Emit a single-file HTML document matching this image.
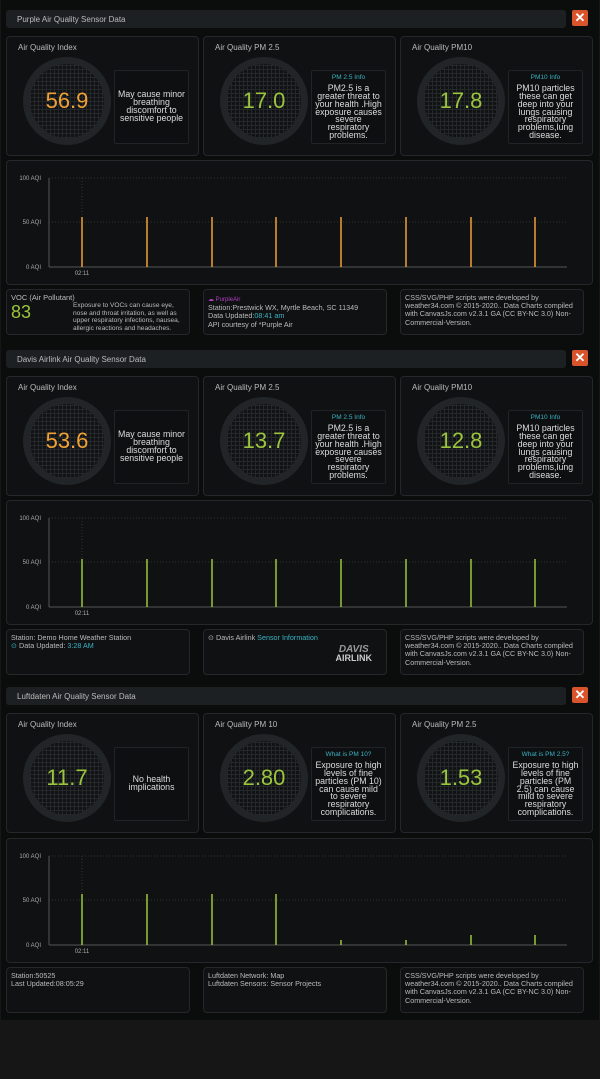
<!DOCTYPE html>
<html><head><meta charset="utf-8"><style>
*{margin:0;padding:0;box-sizing:border-box}
body{width:600px;height:1079px;background:#161616;font-family:"Liberation Sans",sans-serif;color:#bbb;position:relative;overflow:hidden}
#main{position:absolute;left:1px;top:0;width:598px;height:1020px;background:#0b0c0c}
.hdr{position:absolute;left:6px;width:560px;height:18px;background:#1d2023;border-radius:3px;font-size:8px;color:#bbb;padding:5px 0 0 11px}
.x{position:absolute;left:572px;width:16px;height:16px;background:#d9542b;border-radius:2px;color:#fff;font-size:13px;font-weight:bold;text-align:center;line-height:16px}
.card{position:absolute;width:193px;height:120px;background:#0f1112;border:1px solid #24282b;border-radius:4px}
.card .t{position:absolute;left:11px;top:6px;font-size:8px;color:#bbb}
.g{position:absolute;left:16px;top:20px;width:88px;height:88px;border-radius:50%;border:7px solid #222527;background-color:#101213;background-image:repeating-linear-gradient(0deg,#25282a 0 1px,transparent 1px 4px),repeating-linear-gradient(90deg,#25282a 0 1px,transparent 1px 4px)}
.g span{position:absolute;left:0;right:0;top:24px;text-align:center;font-size:22px}
.tb{position:absolute;left:107px;top:33px;width:75px;height:74px;border:1px solid #202427;border-radius:2px;background:#0d0f10;text-align:center;font-size:8.8px;line-height:7.8px;color:#ddd;display:flex;flex-direction:column;justify-content:center;padding:2px 3px}
.tb b{font-weight:normal;color:#3bb3c3;font-size:6.5px;margin-bottom:3px}
.or{color:#f0a135}.gr{color:#9bc53d}
.ch{position:absolute;left:6px;width:587px;height:125px;background:#0f1112;border:1px solid #24282b;border-radius:4px}
.bc{position:absolute;width:184px;height:46px;background:#0f1112;border:1px solid #24282b;border-radius:4px;font-size:7.2px;line-height:8.2px;color:#bbb;padding:4px 4px}
.cy{color:#3bb3c3}
</style></head><body><div id="main"></div>

<!-- Section 1 -->
<div class="hdr" style="top:10px">Purple Air Quality Sensor Data</div><div class="x" style="top:10px">✕</div>
<div class="card" style="left:6px;top:36px"><div class="t">Air Quality Index</div><div class="g"><span class="or">56.9</span></div><div class="tb">May cause minor breathing discomfort to sensitive people</div></div>
<div class="card" style="left:203px;top:36px"><div class="t">Air Quality PM 2.5</div><div class="g"><span class="gr">17.0</span></div><div class="tb"><b>PM 2.5 Info</b>PM2.5 is a greater threat to your health .High exposure causes severe respiratory problems.</div></div>
<div class="card" style="left:400px;top:36px"><div class="t">Air Quality PM10</div><div class="g"><span class="gr">17.8</span></div><div class="tb"><b>PM10 Info</b>PM10 particles these can get deep into your lungs causing respiratory problems,lung disease.</div></div>
<div class="ch" style="top:160px"><svg width="587" height="125" font-family="Liberation Sans" font-size="6" fill="#aaa">
<g stroke="#333" stroke-dasharray="1,2"><line x1="42" y1="17" x2="560" y2="17"/><line x1="42" y1="61" x2="560" y2="61"/><line x1="75" y1="17" x2="75" y2="106"/></g>
<line x1="42" y1="17" x2="42" y2="106" stroke="#555"/><line x1="42" y1="106" x2="560" y2="106" stroke="#555"/>
<text x="34" y="19" text-anchor="end">100 AQI</text><text x="34" y="63" text-anchor="end">50 AQI</text><text x="34" y="108" text-anchor="end">0 AQI</text><text x="75" y="114" text-anchor="middle">02:11</text>
<g stroke="#f0a135" stroke-width="1.5"><line x1="75" y1="56" x2="75" y2="106"/><line x1="140" y1="56" x2="140" y2="106"/><line x1="205" y1="56" x2="205" y2="106"/><line x1="269" y1="56" x2="269" y2="106"/><line x1="334" y1="56" x2="334" y2="106"/><line x1="399" y1="56" x2="399" y2="106"/><line x1="464" y1="56" x2="464" y2="106"/><line x1="528" y1="56" x2="528" y2="106"/></g></svg></div>
<div class="bc" style="left:6px;top:289px"><div style="font-size:7.5px">VOC (Air Pollutant)</div><div class="gr" style="position:absolute;left:4px;top:12px;font-size:18px;line-height:20px">83</div><div style="position:absolute;left:66px;top:12px;width:116px;font-size:6.6px;line-height:7.5px">Exposure to VOCs can cause eye, nose and throat irritation, as well as upper respiratory infections, nausea, allergic reactions and headaches.</div></div>
<div class="bc" style="left:203px;top:289px;padding-top:6px"><div style="color:#b03fc0;font-size:6px">☁ PurpleAir</div>Station:Prestwick WX, Myrtle Beach, SC 11349<br>Data Updated:<span class="cy">08:41 am</span><br>API courtesy of *Purple Air</div>
<div class="bc" style="left:400px;top:289px">CSS/SVG/PHP scripts were developed by weather34.com © 2015-2020.. Data Charts compiled with CanvasJs.com v2.3.1 GA (CC BY-NC 3.0) Non-Commercial-Version.</div>

<!-- Section 2 -->
<div class="hdr" style="top:350px">Davis Airlink Air Quality Sensor Data</div><div class="x" style="top:350px">✕</div>
<div class="card" style="left:6px;top:376px"><div class="t">Air Quality Index</div><div class="g"><span class="or">53.6</span></div><div class="tb">May cause minor breathing discomfort to sensitive people</div></div>
<div class="card" style="left:203px;top:376px"><div class="t">Air Quality PM 2.5</div><div class="g"><span class="gr">13.7</span></div><div class="tb"><b>PM 2.5 Info</b>PM2.5 is a greater threat to your health .High exposure causes severe respiratory problems.</div></div>
<div class="card" style="left:400px;top:376px"><div class="t">Air Quality PM10</div><div class="g"><span class="gr">12.8</span></div><div class="tb"><b>PM10 Info</b>PM10 particles these can get deep into your lungs causing respiratory problems,lung disease.</div></div>
<div class="ch" style="top:500px"><svg width="587" height="125" font-family="Liberation Sans" font-size="6" fill="#aaa">
<g stroke="#333" stroke-dasharray="1,2"><line x1="42" y1="17" x2="560" y2="17"/><line x1="42" y1="61" x2="560" y2="61"/><line x1="75" y1="17" x2="75" y2="106"/></g>
<line x1="42" y1="17" x2="42" y2="106" stroke="#555"/><line x1="42" y1="106" x2="560" y2="106" stroke="#555"/>
<text x="34" y="19" text-anchor="end">100 AQI</text><text x="34" y="63" text-anchor="end">50 AQI</text><text x="34" y="108" text-anchor="end">0 AQI</text><text x="75" y="114" text-anchor="middle">02:11</text>
<g stroke="#9bc53d" stroke-width="1.5"><line x1="75" y1="58" x2="75" y2="106"/><line x1="140" y1="58" x2="140" y2="106"/><line x1="205" y1="58" x2="205" y2="106"/><line x1="269" y1="58" x2="269" y2="106"/><line x1="334" y1="58" x2="334" y2="106"/><line x1="399" y1="58" x2="399" y2="106"/><line x1="464" y1="58" x2="464" y2="106"/><line x1="528" y1="58" x2="528" y2="106"/></g></svg></div>
<div class="bc" style="left:6px;top:629px">Station: Demo Home Weather Station<br><span class="cy">⊙</span> Data Updated: <span class="cy">3:28 AM</span></div>
<div class="bc" style="left:203px;top:629px">⊙ Davis Airlink <span class="cy">Sensor Information</span><div style="position:absolute;right:14px;top:15px;text-align:center;color:#ccc;font-weight:bold;line-height:9px"><i style="font-size:10px;color:#999">DAVIS</i><br><span style="font-size:9px">AIRLINK</span></div></div>
<div class="bc" style="left:400px;top:629px">CSS/SVG/PHP scripts were developed by weather34.com © 2015-2020.. Data Charts compiled with CanvasJs.com v2.3.1 GA (CC BY-NC 3.0) Non-Commercial-Version.</div>

<!-- Section 3 -->
<div class="hdr" style="top:687px">Luftdaten Air Quality Sensor Data</div><div class="x" style="top:687px">✕</div>
<div class="card" style="left:6px;top:713px"><div class="t">Air Quality Index</div><div class="g"><span class="gr">11.7</span></div><div class="tb">No health implications</div></div>
<div class="card" style="left:203px;top:713px"><div class="t">Air Quality PM 10</div><div class="g"><span class="gr">2.80</span></div><div class="tb"><b>What is PM 10?</b>Exposure to high levels of fine particles (PM 10) can cause mild to severe respiratory complications.</div></div>
<div class="card" style="left:400px;top:713px"><div class="t">Air Quality PM 2.5</div><div class="g"><span class="gr">1.53</span></div><div class="tb"><b>What is PM 2.5?</b>Exposure to high levels of fine particles (PM 2.5) can cause mild to severe respiratory complications.</div></div>
<div class="ch" style="top:838px"><svg width="587" height="125" font-family="Liberation Sans" font-size="6" fill="#aaa">
<g stroke="#333" stroke-dasharray="1,2"><line x1="42" y1="17" x2="560" y2="17"/><line x1="42" y1="61" x2="560" y2="61"/><line x1="75" y1="17" x2="75" y2="106"/></g>
<line x1="42" y1="17" x2="42" y2="106" stroke="#555"/><line x1="42" y1="106" x2="560" y2="106" stroke="#555"/>
<text x="34" y="19" text-anchor="end">100 AQI</text><text x="34" y="63" text-anchor="end">50 AQI</text><text x="34" y="108" text-anchor="end">0 AQI</text><text x="75" y="114" text-anchor="middle">02:11</text>
<g stroke="#9bc53d" stroke-width="1.5"><line x1="75" y1="55" x2="75" y2="106"/><line x1="140" y1="55" x2="140" y2="106"/><line x1="205" y1="55" x2="205" y2="106"/><line x1="269" y1="55" x2="269" y2="106"/><line x1="334" y1="101" x2="334" y2="106"/><line x1="399" y1="101" x2="399" y2="106"/><line x1="464" y1="96" x2="464" y2="106"/><line x1="528" y1="96" x2="528" y2="106"/></g></svg></div>
<div class="bc" style="left:6px;top:967px">Station:50525<br>Last Updated:08:05:29</div>
<div class="bc" style="left:203px;top:967px">Luftdaten Network: Map<br>Luftdaten Sensors: Sensor Projects</div>
<div class="bc" style="left:400px;top:967px">CSS/SVG/PHP scripts were developed by weather34.com © 2015-2020.. Data Charts compiled with CanvasJs.com v2.3.1 GA (CC BY-NC 3.0) Non-Commercial-Version.</div>
</body></html>
